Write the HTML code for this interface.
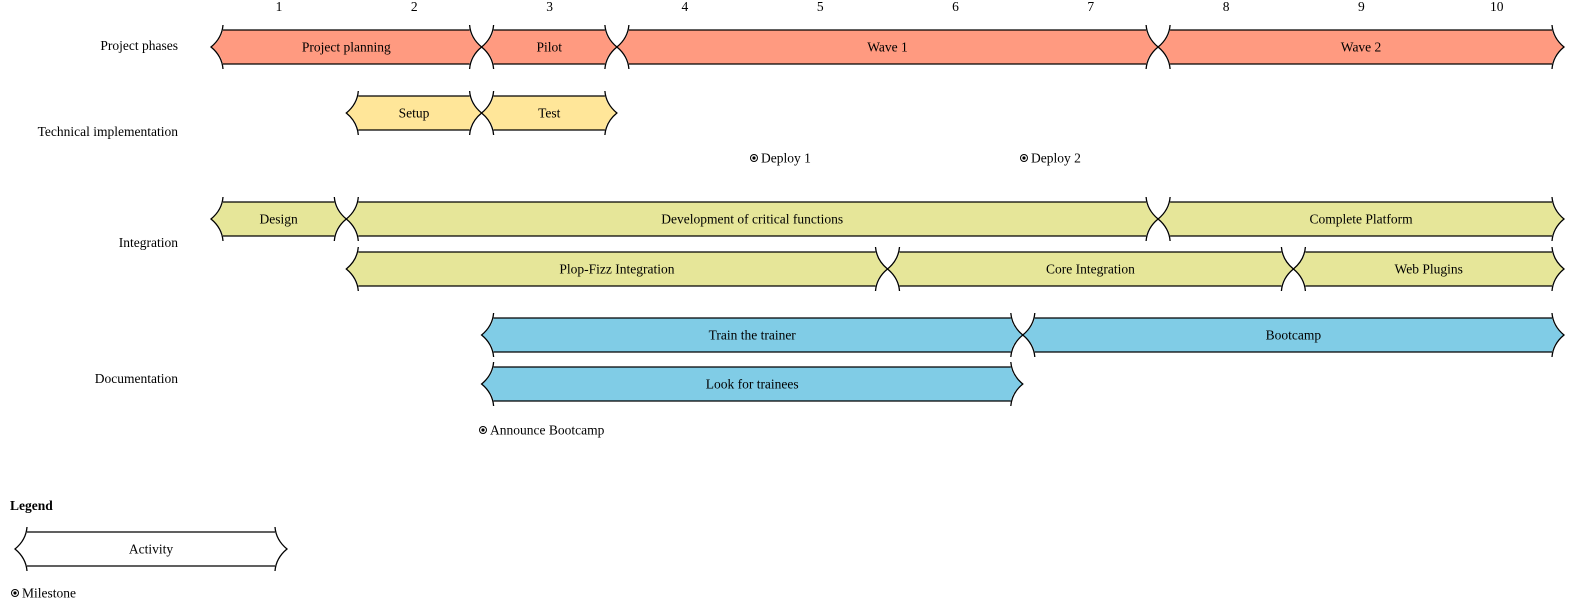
<!DOCTYPE html>
<html><head><meta charset="utf-8"><style>
html,body{margin:0;padding:0;background:#fff;width:1595px;height:613px;overflow:hidden}
svg text{font-family:"Liberation Serif",serif;font-size:13.5px;fill:#000}
</style></head><body>
<svg id="s" width="1595" height="613" xmlns="http://www.w3.org/2000/svg"></svg>
<script>
var s=document.getElementById('s'),h='';
function B(k){return 211+135.3*k;}
function bar(x1,x2,top,fill,label){
 var bot=top+34,mid=top+17,e=5,p=12;
 function c(x,dir,y0,y1){return ' Q'+(x+dir*1)+','+(mid+(y0<mid?-9:9))+' '+(x+dir*p)+','+mid;}
 var d='M'+x1+','+(top-e)+' Q'+(x1-1)+','+(mid-9)+' '+(x1-p)+','+mid+' Q'+(x1-1)+','+(mid+9)+' '+x1+','+(bot+e)+
 ' M'+x2+','+(top-e)+' Q'+(x2+1)+','+(mid-9)+' '+(x2+p)+','+mid+' Q'+(x2+1)+','+(mid+9)+' '+x2+','+(bot+e)+
 ' M'+x1+','+top+' L'+x2+','+top+' M'+x1+','+bot+' L'+x2+','+bot;
 var f='M'+x1+','+top+' L'+x2+','+top+' Q'+(x2+2)+','+(mid-7)+' '+(x2+p)+','+mid+' Q'+(x2+2)+','+(mid+7)+' '+x2+','+bot+' L'+x1+','+bot+' Q'+(x1-2)+','+(mid+7)+' '+(x1-p)+','+mid+' Q'+(x1-2)+','+(mid-7)+' '+x1+','+top+'Z';
 h+='<path d="'+f+'" fill="'+fill+'"/>';
 h+='<path d="'+d+'" fill="none" stroke="#000" stroke-width="1.3"/>';
 h+='<text x="'+((x1+x2)/2)+'" y="'+(mid+4.5)+'" text-anchor="middle">'+label+'</text>';
}
function act(a,b,top,fill,label){bar(B(a)+12,B(b)-12,top,fill,label);}
function ms(x,y,label){h+='<circle cx="'+x+'" cy="'+y+'" r="3.5" fill="none" stroke="#000" stroke-width="1"/><circle cx="'+x+'" cy="'+y+'" r="1.6" fill="#000"/><text x="'+(x+7)+'" y="'+(y+4.5)+'">'+label+'</text>';}
for(var i=1;i<=10;i++)h+='<text x="'+(279+135.3*(i-1))+'" y="11" text-anchor="middle">'+i+'</text>';
var L=[['Project phases',50],['Technical implementation',136],['Integration',247],['Documentation',383]];
L.forEach(function(l){h+='<text x="178" y="'+l[1]+'" text-anchor="end">'+l[0]+'</text>';});
var R='#ff9a80',Y='#ffe699',O='#e6e699',C='#80cce6';
act(0,2,30,R,'Project planning');act(2,3,30,R,'Pilot');act(3,7,30,R,'Wave 1');act(7,10,30,R,'Wave 2');
act(1,2,96,Y,'Setup');act(2,3,96,Y,'Test');
ms(754,158,'Deploy 1');ms(1024,158,'Deploy 2');
act(0,1,202,O,'Design');act(1,7,202,O,'Development of critical functions');act(7,10,202,O,'Complete Platform');
act(1,5,252,O,'Plop-Fizz Integration');act(5,8,252,O,'Core Integration');act(8,10,252,O,'Web Plugins');
act(2,6,318,C,'Train the trainer');act(6,10,318,C,'Bootcamp');
act(2,6,367,C,'Look for trainees');
ms(483,430,'Announce Bootcamp');
h+='<text x="10" y="510" style="font-weight:bold">Legend</text>';
bar(27,275,532,'#fff','Activity');
ms(15,593,'Milestone');
s.innerHTML=h;
</script>
</body></html>
